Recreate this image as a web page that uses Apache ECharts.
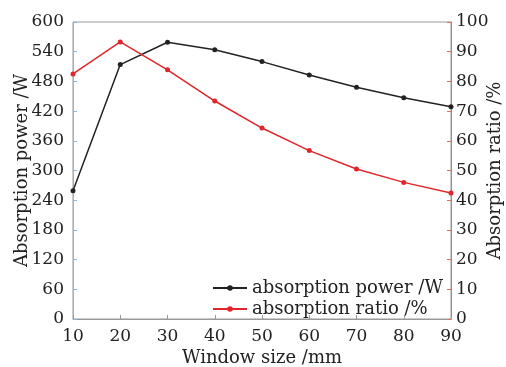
<!DOCTYPE html>
<html><head><meta charset="utf-8">
<script src="https://cdn.jsdelivr.net/npm/echarts@6/dist/echarts.min.js"></script>
<style>html,body{margin:0;padding:0;background:#fff}#c{width:506px;height:367px}</style>
</head><body><div id="c"></div>
<script>
const windowSize = [10, 20, 30, 40, 50, 60, 70, 80, 90];
const absorptionPower = [259, 514, 559, 544, 520, 493, 468, 447, 429];
const absorptionRatio = [82.5, 93.3, 83.9, 73.4, 64.3, 56.7, 50.5, 46.0, 42.4];
const powerTicks = [0, 60, 120, 180, 240, 300, 360, 420, 480, 540, 600];
const ratioTicks = [0, 10, 20, 30, 40, 50, 60, 70, 80, 90, 100];

const FONT = '"DejaVu Serif", "Liberation Serif", serif';
const FS = 18;
const TFS = 17;
const chart = echarts.init(document.getElementById('c'), null, {renderer: 'canvas'});
chart.setOption({
  animation: false,
  backgroundColor: '#fff',
  textStyle: {fontFamily: FONT},
  grid: {left: 73, right: 55, top: 22, bottom: 48, show: true, borderColor: '#999', borderWidth: 1,
         outerBoundsMode: 'none', containLabel: false},
  legend: {
    left: 207, top: 274, orient: 'vertical', itemWidth: 34, itemHeight: 7, itemGap: 3,
    textStyle: {fontFamily: FONT, fontSize: FS, color: '#222'},
    data: ['absorption power /W', 'absorption ratio /%']
  },
  xAxis: {
    type: 'value', min: windowSize[0], max: windowSize[windowSize.length - 1], interval: 10,
    name: 'Window size /mm', nameLocation: 'middle', nameGap: 30, nameMoveOverlap: false,
    nameTextStyle: {fontFamily: FONT, fontSize: FS, color: '#222'},
    axisLine: {lineStyle: {color: '#999'}},
    axisTick: {inside: true, length: 4, lineStyle: {color: '#999'}},
    axisLabel: {fontFamily: FONT, fontSize: TFS, color: '#222', margin: 9},
    splitLine: {show: false}
  },
  yAxis: [{
    type: 'value', min: powerTicks[0], max: powerTicks[powerTicks.length - 1], interval: 60,
    name: 'Absorption power /W', nameLocation: 'middle', nameGap: 42, nameMoveOverlap: false,
    nameTextStyle: {fontFamily: FONT, fontSize: FS, color: '#222'},
    axisLine: {show: true, lineStyle: {color: '#8ab8dc'}},
    axisTick: {show: true, inside: true, length: 4, lineStyle: {color: '#8ab8dc'}},
    axisLabel: {fontFamily: FONT, fontSize: TFS, color: '#222', margin: 9},
    splitLine: {show: false}
  }, {
    type: 'value', min: ratioTicks[0], max: ratioTicks[ratioTicks.length - 1], interval: 10,
    name: 'Absorption ratio /%', nameLocation: 'middle', nameGap: 35, nameRotate: 90, nameMoveOverlap: false,
    nameTextStyle: {fontFamily: FONT, fontSize: FS, color: '#222'},
    axisLine: {show: true, lineStyle: {color: '#e07060'}},
    axisTick: {show: true, inside: true, length: 4, lineStyle: {color: '#e07060'}},
    axisLabel: {fontFamily: FONT, fontSize: TFS, color: '#222', margin: 5},
    splitLine: {show: false}
  }],
  series: [{
    name: 'absorption power /W', type: 'line', yAxisIndex: 0,
    data: windowSize.map((x, i) => [x, absorptionPower[i]]),
    symbol: 'circle', symbolSize: 5,
    lineStyle: {color: '#222', width: 1.5}, itemStyle: {color: '#222'}
  }, {
    name: 'absorption ratio /%', type: 'line', yAxisIndex: 1,
    data: windowSize.map((x, i) => [x, absorptionRatio[i]]),
    symbol: 'circle', symbolSize: 5,
    lineStyle: {color: '#e0262a', width: 1.5}, itemStyle: {color: '#e0262a'}
  }]
});
</script></body></html>
